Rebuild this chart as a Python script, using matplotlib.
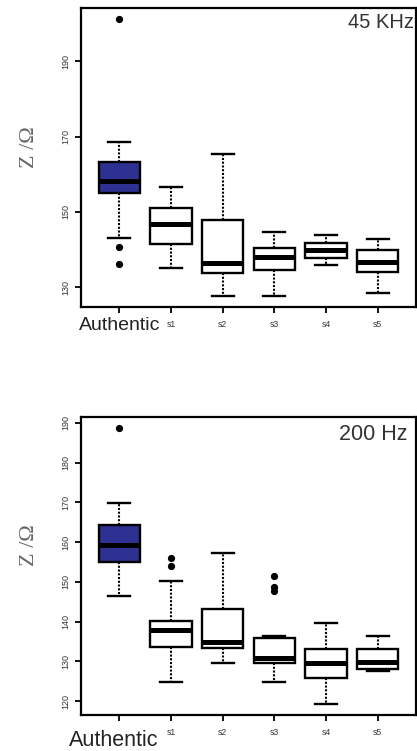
import numpy as np
import matplotlib
matplotlib.use("Agg")
import matplotlib.pyplot as plt

plt.rcParams['font.family'] = ['Liberation Sans', 'DejaVu Sans']

groups = ['Authentic', 's1', 's2', 's3', 's4', 's5']

# 45 KHz panel
hf_whislo = [143.1, 135.1, 127.8, 127.8, 135.8, 128.5]
hf_q1 = [154.9, 141.5, 133.8, 134.5, 137.8, 134.0]
hf_med = [158.1, 146.8, 136.5, 138.1, 139.8, 136.7]
hf_q3 = [163.2, 151.1, 147.8, 140.4, 141.8, 140.0]
hf_whishi = [168.6, 156.5, 165.4, 144.7, 143.8, 142.9]
hf_fliers = [[201.1, 140.7, 136.3], [], [], [], [], []]
hf_yticks = [130, 150, 170, 190]

# 200 Hz panel
lf_whislo = [146.4, 124.9, 129.6, 124.9, 119.3, 127.7]
lf_q1 = [155.0, 133.6, 133.5, 129.6, 125.9, 128.1]
lf_med = [159.2, 137.9, 135.0, 130.8, 129.6, 129.8]
lf_q3 = [164.4, 140.2, 143.2, 135.9, 133.2, 133.2]
lf_whishi = [169.8, 150.3, 157.3, 136.4, 139.6, 136.3]
lf_fliers = [[188.8], [156.0, 154.0], [], [151.5, 148.7, 147.8], [], []]
lf_yticks = [120, 130, 140, 150, 160, 170, 180, 190]

blue = '#2e3192'


def make_stats(whislo, q1, med, q3, whishi, fliers):
    stats = []
    for i in range(len(groups)):
        stats.append(dict(label=groups[i], whislo=whislo[i], q1=q1[i], med=med[i],
                          q3=q3[i], whishi=whishi[i], fliers=fliers[i]))
    return stats


def draw_panel(ax, stats, yticks, title, auth_y, auth_x, auth_size, title_pos, title_size, ylab_y):
    bp = ax.bxp(stats, widths=0.8, capwidths=0.42, patch_artist=True,
                boxprops=dict(facecolor='white', edgecolor='black', linewidth=1.7),
                medianprops=dict(color='black', linewidth=3.6, solid_capstyle='butt'),
                whiskerprops=dict(color='black', linewidth=1.5, linestyle=(0, (1, 0.8))),
                capprops=dict(color='black', linewidth=1.7),
                flierprops=dict(marker='o', markerfacecolor='black', markeredgecolor='black',
                                markersize=4.2))
    bp['boxes'][0].set_facecolor(blue)

    # R style limits: 4% padding
    allv = []
    for s in stats:
        allv += [s['whislo'], s['whishi']] + list(s['fliers'])
    lo, hi = min(allv), max(allv)
    pad = 0.04 * (hi - lo)
    ax.set_ylim(lo - pad, hi + pad)
    ax.set_xlim(0.26, len(groups) + 0.74)

    ax.set_yticks(yticks)
    ax.set_yticklabels([str(t) for t in yticks], rotation=90, va='center', fontsize=6.5, color='#333333')
    ax.set_xticks(range(1, len(groups) + 1))
    ax.set_xticklabels([''] + groups[1:], fontsize=6.2, color='#333333')
    ax.tick_params(axis='both', direction='out', length=4.5, width=1.3, pad=3.5)
    ax.tick_params(axis='x', pad=5)
    for sp in ax.spines.values():
        sp.set_linewidth(1.6)

    ax.text(auth_x, auth_y, groups[0], transform=ax.get_xaxis_transform(), ha='center', va='top',
            fontsize=auth_size, color='#222222')
    ax.text(title_pos[0], title_pos[1], title, transform=ax.transAxes, ha='right', va='top',
            fontsize=title_size, color='#333333')
    ax.set_ylabel('Z /Ω', family=['Liberation Serif', 'DejaVu Serif'], fontsize=16, color='#666666')
    ax.yaxis.set_label_coords(-0.125, ylab_y)


fig = plt.figure(figsize=(4.17, 7.51), dpi=100)
ax1 = fig.add_axes([81 / 417, 1 - 306.7 / 751, 335 / 417, 298.4 / 751])
ax2 = fig.add_axes([81 / 417, 1 - 715 / 751, 335 / 417, 298.3 / 751])

draw_panel(ax1, make_stats(hf_whislo, hf_q1, hf_med, hf_q3, hf_whishi, hf_fliers), hf_yticks,
           '45 KHz', -0.035, 1.0, 14, (0.995, 0.985), 14.5, 0.535)
draw_panel(ax2, make_stats(lf_whislo, lf_q1, lf_med, lf_q3, lf_whishi, lf_fliers), lf_yticks,
           '200 Hz', -0.05, 0.9, 15.5, (0.975, 0.975), 15.5, 0.57)

fig.savefig('out.png', dpi=100)
